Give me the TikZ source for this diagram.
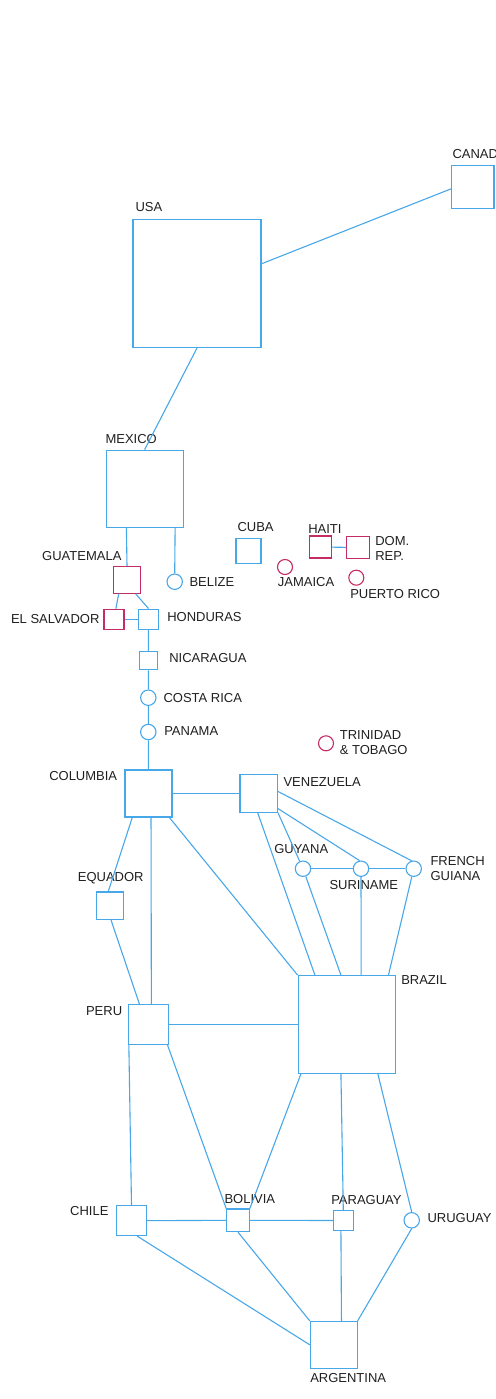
\documentclass[tikz,border=0pt]{standalone}
\usepackage{fontspec}
\setmainfont{Liberation Sans}
\definecolor{blu}{RGB}{72,167,232}
\definecolor{mag}{RGB}{196,44,102}
\tikzset{
  sqb/.style={draw=blu, minimum size=#1pt, inner sep=0pt},
  sqm/.style={draw=mag, minimum size=#1pt, inner sep=0pt},
  dotb/.style={draw=blu, circle, minimum size=15.4pt, inner sep=0pt},
  dotm/.style={draw=mag, circle, minimum size=15pt, inner sep=0pt},
  lbl/.style={text=black!88, inner sep=0pt, anchor=west, align=left},
}
\begin{document}
\begin{tikzpicture}[x=1pt, y=-1pt, line width=1.1pt, every node/.style={font=\fontsize{13}{15}\selectfont}]
  \useasboundingbox (0,0) rectangle (495,1399);
  % north america
  \node[sqb=128] (usa) at (197,283.5) {};
  \node[sqb=42.5] (canada) at (472.7,187) {};
  \node[sqb=77] (mexico) at (144.6,488.7) {};
  \node[sqm=26.5] (guatemala) at (127,580) {};
  \node[dotb] (belize) at (174.7,581.7) {};
  \node[sqm=20] (elsalvador) at (114,619.3) {};
  \node[sqb=20.4] (honduras) at (148.5,619.3) {};
  \node[sqb=18] (nicaragua) at (148.3,660.7) {};
  \node[dotb] (costarica) at (148.3,697.7) {};
  \node[dotb] (panama) at (148.3,732) {};
  % caribbean
  \node[sqb=25] (cuba) at (248.5,551) {};
  \node[sqm=22] (haiti) at (320.3,547) {};
  \node[sqm=22.5] (domrep) at (358,547.5) {};
  \node[dotm] (jamaica) at (285,567) {};
  \node[dotm] (puertorico) at (356.3,577.7) {};
  \node[dotm] (trinidad) at (326,743.3) {};
  % south america
  \node[sqb=47] (columbia) at (148.5,793.5) {};
  \node[sqb=37.5] (venezuela) at (258.7,793.5) {};
  \node[dotb] (guyana) at (303,868.7) {};
  \node[dotb] (suriname) at (361,868.7) {};
  \node[dotb] (frguiana) at (413.7,868.7) {};
  \node[sqb=27.4] (equador) at (110,905.7) {};
  \node[sqb=97.7] (brazil) at (347,1024.5) {};
  \node[sqb=39.6] (peru) at (148.5,1024.5) {};
  \node[sqb=29.6] (chile) at (131.5,1220.7) {};
  \node[sqb=22.6] (bolivia) at (238,1220.3) {};
  \node[sqb=19.5] (paraguay) at (343.3,1220.5) {};
  \node[dotb] (uruguay) at (411.7,1220.3) {};
  \node[sqb=46.7] (argentina) at (333.7,1344.8) {};
  % labels
  \node[lbl] (canada-t) at (452,154.3) {CANADA};
  \node[lbl] (usa-t) at (135,207.3) {USA};
  \node[lbl] (mexico-t) at (105,439.3) {MEXICO};
  \node[lbl, anchor=east] (guatemala-t) at (122,556) {GUATEMALA};
  \node[lbl] (belize-t) at (189,582.3) {BELIZE};
  \node[lbl] (cuba-t) at (237,527.3) {CUBA};
  \node[lbl] (haiti-t) at (307.7,529.3) {HAITI};
  \node[lbl] (domrep-t) at (374.7,548) {DOM.\\REP.};
  \node[lbl] (jamaica-t) at (277.3,582.3) {JAMAICA};
  \node[lbl] (puertorico-t) at (349.7,593.7) {PUERTO RICO};
  \node[lbl, anchor=east] (elsalvador-t) at (100,619.3) {EL SALVADOR};
  \node[lbl] (honduras-t) at (166.7,617.3) {HONDURAS};
  \node[lbl] (nicaragua-t) at (168.7,657.7) {NICARAGUA};
  \node[lbl] (costarica-t) at (163,697.7) {COSTA RICA};
  \node[lbl] (panama-t) at (163.7,731.3) {PANAMA};
  \node[lbl] (trinidad-t) at (339.3,743) {TRINIDAD\\\& TOBAGO};
  \node[lbl, anchor=east] (columbia-t) at (117.7,776) {COLUMBIA};
  \node[lbl] (venezuela-t) at (283,782.3) {VENEZUELA};
  \node[lbl] (guyana-t) at (273.7,849.3) {GUYANA};
  \node[lbl] (suriname-t) at (329,885.3) {SURINAME};
  \node[lbl] (frguiana-t) at (430,868.7) {FRENCH\\GUIANA};
  \node[lbl] (equador-t) at (77.3,878.3) {EQUADOR};
  \node[lbl] (brazil-t) at (400.7,979.7) {BRAZIL};
  \node[lbl, anchor=east] (peru-t) at (122.7,1010.7) {PERU};
  \node[lbl, anchor=east] (chile-t) at (109,1210.7) {CHILE};
  \node[lbl] (bolivia-t) at (224,1198.7) {BOLIVIA};
  \node[lbl] (paraguay-t) at (330.7,1200.3) {PARAGUAY};
  \node[lbl] (uruguay-t) at (427,1218.3) {URUGUAY};
  \node[lbl] (argentina-t) at (309.7,1378.3) {ARGENTINA};
  % borders
  \begin{scope}[blu]
    \draw (usa.17) -- (canada.185);
    \draw (usa.south) -- (mexico.north);
    \draw (mexico.-115) -- (guatemala.north);
    \draw (mexico.-52.5) -- (belize.north);
    \draw (guatemala.-121.6) -- (elsalvador.80);
    \draw (guatemala.-58.4) -- (honduras.north);
    \draw (elsalvador) -- (honduras);
    \draw (haiti) -- (domrep);
    \draw (honduras) -- (nicaragua) -- (costarica) -- (panama) -- (columbia);
    \draw (columbia) -- (venezuela);
    \draw (columbia.236.6) -- (equador.97);
    \draw (equador.-86) -- (peru.114.3);
    \draw (columbia.-84) -- (peru.82.8);
    \draw (columbia.-49.9) -- (brazil.north west);
    \draw (venezuela.-93) -- (brazil.123.3);
    \draw (venezuela.south east) -- (guyana);
    \draw (venezuela.-38) -- (suriname.100);
    \draw (venezuela.6.6) -- (frguiana.105);
    \draw (guyana) -- (suriname) -- (frguiana);
    \draw (guyana) -- (brazil.97.4);
    \draw (suriname) -- (brazil.74);
    \draw (frguiana) -- (brazil.50.9);
    \draw (peru) -- (brazil);
    \draw (peru.226.5) -- (chile.north);
    \draw (peru.-47) -- (bolivia.north west);
    \draw (brazil.-133) -- (bolivia.north east);
    \draw (brazil.-97) -- (paraguay.north);
    \draw (brazil.-58) -- (uruguay.north);
    \draw (chile) -- (bolivia) -- (paraguay);
    \draw (chile.-70.4) -- (argentina.west);
    \draw (bolivia.south) -- (argentina.north west);
    \draw (paraguay.-103.6) -- (argentina.72.5);
    \draw (uruguay.south) -- (argentina.north east);
  \end{scope}
\end{tikzpicture}
\end{document}
